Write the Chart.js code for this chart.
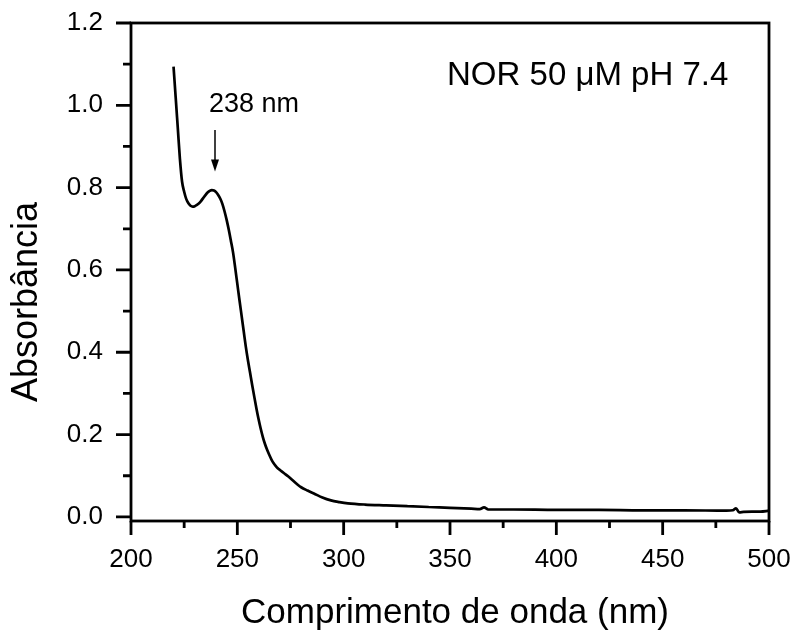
<!DOCTYPE html>
<html>
<head>
<meta charset="utf-8">
<title>NOR 50 µM pH 7.4</title>
<script src="https://cdn.jsdelivr.net/npm/chart.js@4/dist/chart.umd.min.js"></script>
<style>
  html, body { margin: 0; padding: 0; background: #fff; }
  canvas { display: block; }
</style>
</head>
<body>
<canvas id="spectrum" width="796" height="635"></canvas>
<script>
// wavelength (nm) and absorbance
const wavelength = [
  220, 221, 222, 223, 224, 225, 226, 227, 228, 229,
  230, 231, 232, 233, 234, 235, 236, 237, 238, 239,
  240, 241, 242, 243, 244, 245, 246, 247, 248, 249,
  250, 251, 252, 253, 254, 255, 256, 257, 258, 259,
  260, 261, 262, 263, 264, 265, 266, 267, 268, 269,
  270, 272, 274, 276, 278, 280, 283, 286, 290, 294,
  298, 302, 310, 320, 330, 340, 350, 360, 364, 366,
  368, 380, 400, 420, 440, 460, 480, 483, 484.5, 486,
  488, 492, 496, 500
];
const absorbance = [
  1.094, 1.020, 0.945, 0.870, 0.815, 0.790, 0.772, 0.762, 0.756, 0.754,
  0.755, 0.758, 0.762, 0.768, 0.775, 0.782, 0.788, 0.792, 0.794, 0.793,
  0.789, 0.782, 0.773, 0.760, 0.742, 0.721, 0.697, 0.670, 0.642, 0.605,
  0.566, 0.527, 0.489, 0.451, 0.413, 0.380, 0.350, 0.320, 0.291, 0.263,
  0.237, 0.214, 0.194, 0.177, 0.163, 0.151, 0.140, 0.131, 0.124, 0.118,
  0.114, 0.106, 0.098, 0.089, 0.080, 0.072, 0.064, 0.057, 0.047, 0.040,
  0.036, 0.033, 0.030, 0.028, 0.026, 0.024, 0.022, 0.020, 0.019, 0.023,
  0.018, 0.018, 0.017, 0.017, 0.016, 0.016, 0.015, 0.016, 0.021, 0.011,
  0.012, 0.013, 0.013, 0.015
];

const xTicks = [200, 250, 300, 350, 400, 450, 500];
const xMinorTicks = [225, 275, 325, 375, 425, 475];
const yTicks = [0.0, 0.2, 0.4, 0.6, 0.8, 1.0, 1.2];
const yMinorTicks = [0.1, 0.3, 0.5, 0.7, 0.9, 1.1];

const peakLabel = "238 nm";
const peakWavelength = 239.5;
const sampleLabel = "NOR 50 \u03BCM pH 7.4";
const xTitle = "Comprimento de onda (nm)";
const yTitle = "Absorb\u00E2ncia";

const FONT = "'Liberation Sans', Arial, Helvetica, sans-serif";

const framePlugin = {
  id: "frame",
  afterDraw(chart) {
    const ctx = chart.ctx;
    const a = chart.chartArea;
    const xs = chart.scales.x;
    const ys = chart.scales.y;
    ctx.save();
    ctx.strokeStyle = "#000";
    ctx.fillStyle = "#000";
    ctx.lineWidth = 2.8;
    ctx.strokeRect(a.left, a.top, a.right - a.left, a.bottom - a.top);

    // tick marks, pointing outwards
    ctx.beginPath();
    xTicks.forEach(v => {
      const px = xs.getPixelForValue(v);
      ctx.moveTo(px, a.bottom);
      ctx.lineTo(px, a.bottom + 14);
    });
    xMinorTicks.forEach(v => {
      const px = xs.getPixelForValue(v);
      ctx.moveTo(px, a.bottom);
      ctx.lineTo(px, a.bottom + 7);
    });
    yTicks.forEach(v => {
      const py = ys.getPixelForValue(v);
      ctx.moveTo(a.left, py);
      ctx.lineTo(a.left - 15, py);
    });
    yMinorTicks.forEach(v => {
      const py = ys.getPixelForValue(v);
      ctx.moveTo(a.left, py);
      ctx.lineTo(a.left - 8, py);
    });
    ctx.stroke();

    // peak arrow
    const ax = xs.getPixelForValue(peakWavelength);
    const aTop = ys.getPixelForValue(0.94);
    const aTip = ys.getPixelForValue(0.839);
    ctx.lineWidth = 1.5;
    ctx.beginPath();
    ctx.moveTo(ax, aTop);
    ctx.lineTo(ax, aTip - 8);
    ctx.stroke();
    ctx.beginPath();
    ctx.moveTo(ax - 4, aTip - 12);
    ctx.lineTo(ax + 4, aTip - 12);
    ctx.lineTo(ax, aTip);
    ctx.closePath();
    ctx.fill();

    // annotations
    ctx.textBaseline = "alphabetic";
    ctx.textAlign = "left";
    ctx.font = "27px " + FONT;
    ctx.fillText(peakLabel, xs.getPixelForValue(236.7), ys.getPixelForValue(0.984));
    ctx.font = "33px " + FONT;
    ctx.fillText(sampleLabel, xs.getPixelForValue(348.6), ys.getPixelForValue(1.049));

    // axis titles
    ctx.font = "35px " + FONT;
    ctx.textAlign = "center";
    ctx.fillText(xTitle, 455, 623);
    ctx.translate(37, 302);
    ctx.rotate(-Math.PI / 2);
    ctx.font = "36px " + FONT;
    ctx.fillText(yTitle, 0, 0);
    ctx.restore();
  }
};

new Chart(document.getElementById("spectrum"), {
  type: "line",
  data: {
    datasets: [{
      data: wavelength.map((w, i) => ({ x: w, y: absorbance[i] })),
      borderColor: "#000",
      borderWidth: 2.7,
      pointRadius: 0,
      fill: false,
      cubicInterpolationMode: "monotone"
    }]
  },
  options: {
    responsive: false,
    animation: false,
    events: [],
    layout: { padding: { top: 23, right: 27, left: 0, bottom: 0 } },
    plugins: { legend: { display: false }, tooltip: { enabled: false } },
    scales: {
      x: {
        type: "linear",
        min: 200,
        max: 500,
        afterBuildTicks: s => { s.ticks = xTicks.map(v => ({ value: v })); },
        afterFit: s => {
          s.height = 114;
          s.paddingLeft = 0;
          s.paddingRight = 0;
        },
        grid: { display: false, drawTicks: false },
        border: { display: false },
        ticks: {
          color: "#000",
          font: { family: FONT, size: 26 },
          padding: 23,
          maxRotation: 0,
          autoSkip: false,
          callback: v => String(v)
        }
      },
      y: {
        min: -0.01,
        max: 1.2,
        afterBuildTicks: s => { s.ticks = yTicks.map(v => ({ value: v })); },
        afterFit: s => {
          s.width = 131;
          s.paddingTop = 0;
          s.paddingBottom = 0;
        },
        grid: { display: false, drawTicks: false },
        border: { display: false },
        ticks: {
          color: "#000",
          font: { family: FONT, size: 26 },
          padding: 28,
          autoSkip: false,
          callback: v => Number(v).toFixed(1)
        }
      }
    }
  },
  plugins: [framePlugin]
});
</script>
</body>
</html>
